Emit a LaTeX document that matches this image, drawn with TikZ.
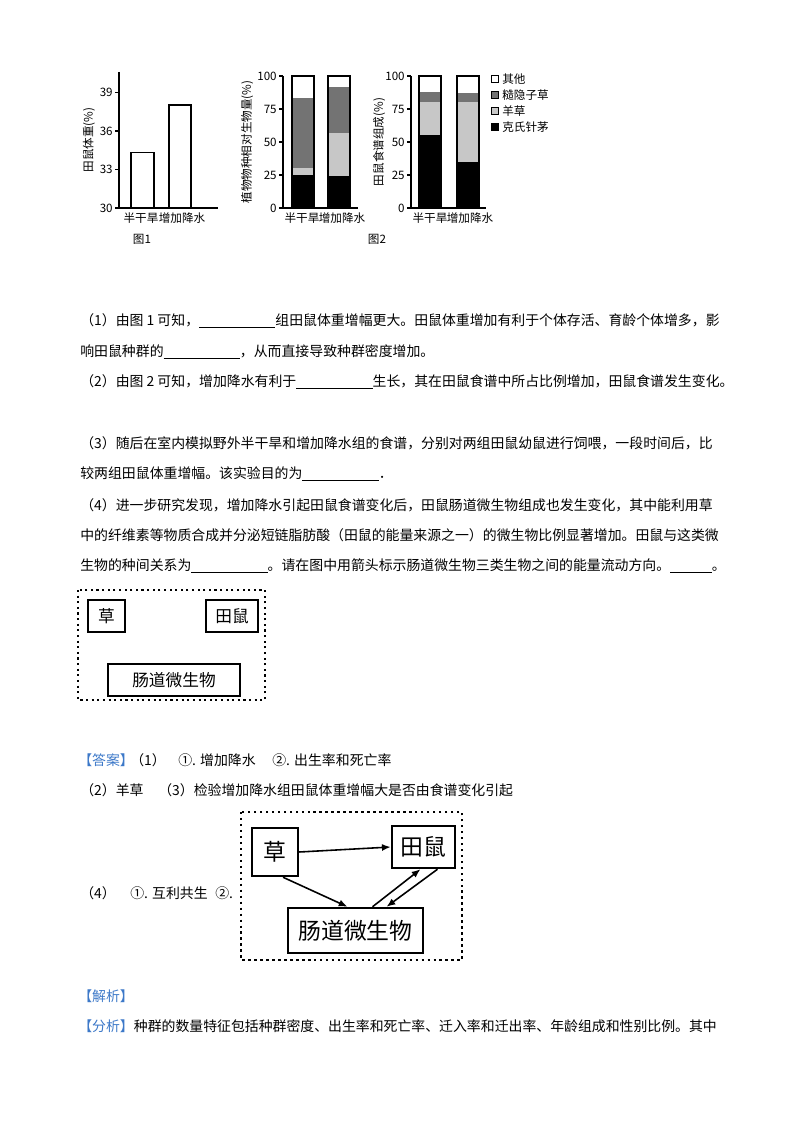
\documentclass[tikz,border=0pt]{standalone}
\usepackage{fontspec}
\setmainfont{Noto Sans CJK SC}
\usetikzlibrary{arrows.meta}
\definecolor{dk}{gray}{0.45}
\definecolor{lt}{gray}{0.78}
\definecolor{bl}{RGB}{60,120,200}
\begin{document}
\begin{tikzpicture}[x=0.02cm,y=-0.02cm,
 txt/.style={anchor=west,inner sep=0,font=\fontsize{7.9pt}{9pt}\selectfont},
 sm/.style={inner sep=0,font=\fontsize{6.6pt}{8pt}\selectfont},
 bx/.style={draw,line width=0.9pt,inner sep=0},
 arr/.style={-{Latex[length=5pt,width=4pt]},line width=0.9pt},
 ax/.style={line width=0.6pt}]
\useasboundingbox (0,0) rectangle (800,1132);
% ---- chart 1
\draw[ax] (119,72) -- (119,208) -- (218,208);
\foreach \v/\y in {30/208,33/169.6,36/131,39/92.4}{\draw[ax] (115,\y)--(119,\y); \node[sm,anchor=east] at (113,\y) {\v};}
\draw[ax] (131,208) rectangle (154,152.5);
\draw[ax] (169,208) rectangle (191,105);
\node[sm] at (141,218) {半干旱};
\node[sm] at (182,218) {增加降水};
\node[sm] at (142,239) {图1};
\node[sm,rotate=90] at (89,140) {田鼠体重(\%)};
% ---- chart 2
\draw[ax] (283,76) -- (283,208) -- (358,208);
\foreach \v in {0,25,50,75,100}{\draw[ax] (279,208-1.32*\v)--(283,208-1.32*\v); \node[sm,anchor=east] at (277,208-1.32*\v) {\v};}
\foreach \x/\a/\b/\c in {292/25/30/83,328/24/57/92}{
 \fill[black] (\x,208) rectangle (\x+22,208-1.32*\a);
 \fill[lt] (\x,208-1.32*\a) rectangle (\x+22,208-1.32*\b);
 \fill[dk] (\x,208-1.32*\b) rectangle (\x+22,208-1.32*\c);
 \draw[ax] (\x,208) rectangle (\x+22,76);}
\node[sm] at (302,218) {半干旱};
\node[sm] at (342,218) {增加降水};
\node[sm] at (377,239) {图2};
\node[sm,rotate=90] at (247,142) {植物物种相对生物量(\%)};
% ---- chart 3
\draw[ax] (411,76) -- (411,208) -- (486,208);
\foreach \v in {0,25,50,75,100}{\draw[ax] (407,208-1.32*\v)--(411,208-1.32*\v); \node[sm,anchor=east] at (405,208-1.32*\v) {\v};}
\foreach \x/\a/\b/\c in {419/55/80/88,457/35/80/87}{
 \fill[black] (\x,208) rectangle (\x+22,208-1.32*\a);
 \fill[lt] (\x,208-1.32*\a) rectangle (\x+22,208-1.32*\b);
 \fill[dk] (\x,208-1.32*\b) rectangle (\x+22,208-1.32*\c);
 \draw[ax] (\x,208) rectangle (\x+22,76);}
\node[sm] at (430,218) {半干旱};
\node[sm] at (470,218) {增加降水};
\node[sm,rotate=90] at (379,142) {田鼠食谱组成(\%)};
\foreach \y/\c/\t in {79/white/其他,95/dk/糙隐子草,111/lt/羊草,127/black/克氏针茅}{
 \filldraw[fill=\c,draw=black,line width=0.5pt] (491,\y-3.5) rectangle (498,\y+3.5);
 \node[sm,anchor=west] at (502,\y) {\t};}
% ---- question text
\node[txt] at (80,321) {（1）由图 1 可知，\underline{\hspace{5.5em}}组田鼠体重增幅更大。田鼠体重增加有利于个体存活、育龄个体增多，影};
\node[txt] at (80,352) {响田鼠种群的\underline{\hspace{5.5em}}，从而直接导致种群密度增加。};
\node[txt] at (80,382) {（2）由图 2 可知，增加降水有利于\underline{\hspace{5.5em}}生长，其在田鼠食谱中所占比例增加，田鼠食谱发生变化。};
\node[txt] at (80,443) {（3）随后在室内模拟野外半干旱和增加降水组的食谱，分别对两组田鼠幼鼠进行饲喂，一段时间后，比};
\node[txt] at (80,474) {较两组田鼠体重增幅。该实验目的为\underline{\hspace{5.5em}}．};
\node[txt] at (80,505) {（4）进一步研究发现，增加降水引起田鼠食谱变化后，田鼠肠道微生物组成也发生变化，其中能利用草};
\node[txt] at (80,535) {中的纤维素等物质合成并分泌短链脂肪酸（田鼠的能量来源之一）的微生物比例显著增加。田鼠与这类微};
\node[txt] at (80,566) {生物的种间关系为\underline{\hspace{5.5em}}。请在图中用箭头标示肠道微生物三类生物之间的能量流动方向。\underline{\hspace{3em}}。};
% ---- question box
\draw[line width=1.2pt,dotted] (78,590) rectangle (265,700);
\node[bx,font=\fontsize{9.5pt}{10pt}\selectfont,minimum width=37*0.02cm,minimum height=32*0.02cm] (q1) at (106.5,616) {草};
\node[bx,font=\fontsize{9.5pt}{10pt}\selectfont,minimum width=52*0.02cm,minimum height=32*0.02cm] (q2) at (232,616) {田鼠};
\node[bx,font=\fontsize{9.5pt}{10pt}\selectfont,minimum width=132*0.02cm,minimum height=32*0.02cm] (q3) at (174,680) {肠道微生物};
% ---- answer
\node[txt,text=bl] at (78,760) {【答案】};
\node[txt] at (130,760) {（1）};
\node[txt] at (178,760) {①. 增加降水};
\node[txt] at (272,760) {②. 出生率和死亡率};
\node[txt] at (80,790) {（2）羊草};
\node[txt] at (158,790) {（3）检验增加降水组田鼠体重增幅大是否由食谱变化引起};
\node[txt] at (80,893) {（4）};
\node[txt] at (130,893) {①. 互利共生};
\node[txt] at (215,893) {②.};
\draw[line width=1.4pt,dotted] (241,812) rectangle (462,960);
\node[bx,line width=1.4pt,font=\fontsize{13pt}{14pt}\selectfont,minimum width=46*0.02cm,minimum height=48*0.02cm] (a1) at (275,852) {草};
\node[bx,line width=1.4pt,font=\fontsize{13pt}{14pt}\selectfont,minimum width=63*0.02cm,minimum height=42*0.02cm] (a2) at (423.5,847) {田鼠};
\node[bx,line width=1.4pt,font=\fontsize{13pt}{14pt}\selectfont,minimum width=135*0.02cm,minimum height=45*0.02cm] (a3) at (355.5,930.5) {肠道微生物};
\draw[arr] (a1.east) -- (a2.west);
\draw[arr] ([xshift=8*0.02cm]a1.south) -- ([xshift=-8*0.02cm]a3.north);
\draw[arr] ([xshift=17*0.02cm]a3.north) -- ([xshift=-3*0.02cm]a2.south);
\draw[arr] ([xshift=14*0.02cm]a2.south) -- ([xshift=31*0.02cm]a3.north);
% ---- analysis
\node[txt,text=bl] at (78,996) {【解析】};
\node[txt] at (78,1026) {\textcolor{bl}{【分析】}种群的数量特征包括种群密度、出生率和死亡率、迁入率和迁出率、年龄组成和性别比例。其中};
\end{tikzpicture}
\end{document}
